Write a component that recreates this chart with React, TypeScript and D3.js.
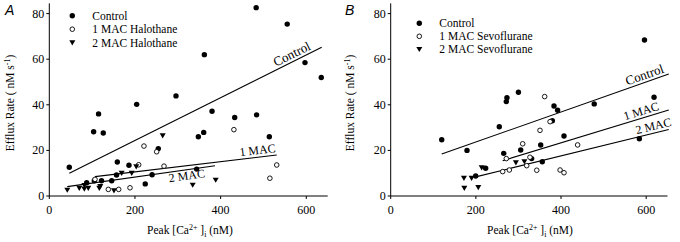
import React from 'react';
import * as d3 from 'd3';

type Pt = [number, number];

const xTicks = [0, 200, 400, 600];
const yTicks = [0, 20, 40, 60, 80];

// Panel A: Halothane
const haloControl: Pt[] = [
  [46.7, 12.6], [87.3, 5.8], [103.5, 28.2], [105, 6.7], [115, 36], [122, 6.7], [126, 27.6],
  [145.7, 6.7], [157, 9.2], [158.8, 14.9], [186, 13.5], [204, 40.2], [224, 5.3], [240, 9.3],
  [254.5, 20.8], [295.8, 43.9], [344, 11.8], [348, 26], [360.5, 27.9], [362, 62], [380, 37.2],
  [432.9, 34.4], [484, 35.6], [483, 82.6], [513.7, 26], [555.5, 75.4], [597, 58.5], [635, 52],
];
const halo1MAC: Pt[] = [
  [106.7, 7.3], [137.8, 2.9], [162, 2.9], [188.4, 3.6], [208.7, 13.7], [221, 21.9],
  [250.7, 19.4], [267.8, 13.1], [431, 29.1], [515, 7.8], [531, 13.6],
];
const halo2MAC: Pt[] = [
  [42, 2.6], [70, 3.4], [81.7, 3.1], [82, 4.6], [91, 3.4], [116.7, 3.4], [119, 4.2],
  [151, 2.3], [169, 10], [192.4, 10], [203, 12.9], [264.7, 26.5], [334.8, 4.8], [388.5, 7],
];
const haloFitControl: Pt[] = [[46.7, 10], [636, 65.2]];
const haloFit1MAC: Pt[] = [[106.7, 8.5], [531, 18]];
const haloFit2MAC: Pt[] = [[42, 4.1], [387, 13.3]];

// Panel B: Sevoflurane
const sevoControl: Pt[] = [
  [119.8, 24.7], [179.2, 20], [199.6, 8.8], [223, 12.2], [255, 30.4], [265.4, 18.7],
  [271.5, 41.4], [273, 43.1], [300, 45.5], [305.3, 20.2], [331, 16.4], [352.3, 22.4],
  [356, 15], [379.6, 33], [383.5, 39.5], [392, 37.6], [407, 26.3], [478, 40.4],
  [584, 25.1], [596, 68.4], [618.5, 43.3],
];
const sevo1MAC: Pt[] = [
  [263, 10.7], [271.5, 16.4], [278.6, 11.4], [310, 22.9], [319.4, 13.3], [327, 17],
  [343, 11.3], [350.6, 28.8], [361.6, 43.6], [374.3, 32.6], [397.8, 11.4], [407, 10.2], [439, 22.4],
];
const sevo2MAC: Pt[] = [
  [172, 7.8], [172.9, 3.4], [190, 7.8], [205.7, 3.8], [213.7, 12.4], [294, 14.6], [314, 15.1],
];
const sevoFitControl: Pt[] = [[119.8, 18.4], [653, 53.5]];
const sevoFit1MAC: Pt[] = [[263, 15.5], [653, 37.7]];
const sevoFit2MAC: Pt[] = [[202, 8.5], [653, 29.2]];

const haloLegend = ['Control', '1 MAC Halothane', '2 MAC Halothane'];
const sevoLegend = ['Control', '1 MAC Sevoflurane', '2 MAC Sevoflurane'];
const fitLabels = ['Control', '1 MAC', '2 MAC'];
const fitLabelSizes = [13, 12, 12];

const SERIF = 'Liberation Serif';
const kinds = ['filled', 'open', 'tri'] as const;

function Marker({ kind, x, y }: { kind: string; x: number; y: number }) {
  if (kind === 'filled') return <circle cx={x} cy={y} r={2.7} fill="#000" />;
  if (kind === 'open') return <circle cx={x} cy={y} r={2.3} fill="#fff" stroke="#000" strokeWidth={0.9} />;
  return <path d={`M${x - 3},${y - 2.4}L${x + 3},${y - 2.4}L${x},${y + 2.8}Z`} fill="#000" />;
}

interface PanelProps {
  letter: string;
  ox: number;
  x0: number;
  x1: number;
  legend: string[];
  legendX: number;
  legendY: number;
  legendDy: number;
  series: Pt[][];
  fits: Pt[][];
  labelX: number[];
  labelDy: number[];
}

function Panel(p: PanelProps) {
  const x = d3.scaleLinear().domain([0, 650]).range([p.x0, p.x1]);
  const y = d3.scaleLinear().domain([0, 80]).range([196, 13.6]);
  const line = d3.line<Pt>().x(d => x(d[0])).y(d => y(d[1]));
  const yTop = y(84.5);
  const ts = { fontFamily: SERIF };
  return (
    <g>
      <text x={p.ox + 5} y={15} style={{ fontFamily: 'Liberation Sans' }} fontStyle="italic" fontSize={14}>{p.letter}</text>
      <line x1={p.x0} x2={p.x0} y1={yTop} y2={196} stroke="#000" strokeWidth={1} />
      <line x1={p.x0} x2={p.x1} y1={196} y2={196} stroke="#000" strokeWidth={1} />
      {yTicks.map(t => (
        <g key={'y' + t}>
          <line x1={p.x0 - 3} x2={p.x0} y1={y(t)} y2={y(t)} stroke="#000" />
          <text x={p.x0 - 5} y={y(t) + 4} textAnchor="end" style={ts} fontSize={12}>{t}</text>
        </g>
      ))}
      {xTicks.map(t => (
        <g key={'x' + t}>
          <line x1={x(t)} x2={x(t)} y1={196} y2={199} stroke="#000" />
          <text x={x(t)} y={214} textAnchor="middle" style={ts} fontSize={12}>{t}</text>
        </g>
      ))}
      <text transform={`translate(${p.ox + 14},${103}) rotate(-90)`} textAnchor="middle" style={ts} fontSize={11.5}>
        Efflux Rate ( nM s<tspan dy={-4} fontSize={8}>-1</tspan><tspan dy={4}>)</tspan>
      </text>
      <text x={p.ox + 190} y={234} textAnchor="middle" style={ts} fontSize={11.5}>
        Peak [Ca<tspan dy={-4} fontSize={8}>2+</tspan><tspan dy={4}> ]</tspan><tspan dy={3} fontSize={8}>i</tspan><tspan dy={-3}> (nM)</tspan>
      </text>
      {p.legend.map((l, i) => (
        <g key={l}>
          <Marker kind={kinds[i]} x={p.legendX} y={p.legendY + i * p.legendDy} />
          <text x={p.legendX + 20} y={p.legendY + i * p.legendDy + 4} style={ts} fontSize={11.5}>{l}</text>
        </g>
      ))}
      {p.fits.map((f, i) => (
        <path key={'f' + i} d={line(f) || ''} fill="none" stroke="#000" strokeWidth={1.1} />
      ))}
      {p.fits.map((f, i) => {
        const [a, b] = f;
        const xv = p.labelX[i];
        const yv = a[1] + ((xv - a[0]) / (b[0] - a[0])) * (b[1] - a[1]);
        const ang = (Math.atan2(y(b[1]) - y(a[1]), x(b[0]) - x(a[0])) * 180) / Math.PI;
        return (
          <text key={'l' + i} transform={`translate(${x(xv)},${y(yv)}) rotate(${ang})`} y={p.labelDy[i]}
            textAnchor="middle" style={ts} fontSize={fitLabelSizes[i]}>{fitLabels[i]}</text>
        );
      })}
      {p.series.map((s, i) => s.map((d, j) => (
        <Marker key={i + '-' + j} kind={kinds[i]} x={x(d[0])} y={y(d[1])} />
      )))}
    </g>
  );
}

export default function App() {
  return (
    <svg width={680} height={242} style={{ position: 'absolute', left: 0, top: 0, background: '#fff' }}>
      <rect width={680} height={242} fill="#fff" />
      <Panel letter="A" ox={0} x0={49.3} x1={49.3 + 650 * 0.4283}
        legend={haloLegend} legendX={72.3} legendY={15.7} legendDy={13.5}
        series={[haloControl, halo1MAC, halo2MAC]}
        fits={[haloFitControl, haloFit1MAC, haloFit2MAC]}
        labelX={[574, 488, 319]} labelDy={[-3, -3, 10]} />
      <Panel letter="B" ox={340} x0={390.7} x1={390.7 + 650 * 0.4258}
        legend={sevoLegend} legendX={419.3} legendY={23.3} legendDy={13}
        series={[sevoControl, sevo1MAC, sevo2MAC]}
        fits={[sevoFitControl, sevoFit1MAC, sevoFit2MAC]}
        labelX={[602, 593, 621]} labelDy={[-3, -3, -3]} />
    </svg>
  );
}
